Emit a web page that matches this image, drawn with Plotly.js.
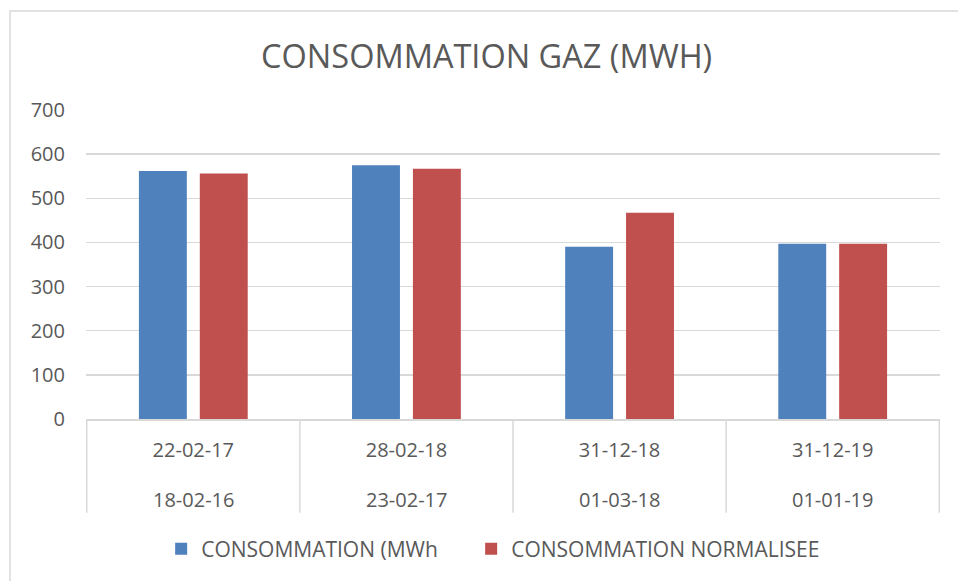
<!DOCTYPE html>
<html>
<head>
<meta charset="utf-8">
<script src="https://cdn.plot.ly/plotly-3.0.1.min.js"></script>
<style>html,body{margin:0;padding:0;background:#fff;}#chart{width:958px;height:581px;}</style>
</head>
<body>
<div id="chart"></div>
<script>
// Data
const topLabels = ["22-02-17", "28-02-18", "31-12-18", "31-12-19"];
const bottomLabels = ["18-02-16", "23-02-17", "01-03-18", "01-01-19"];
const consommation = [562, 575, 390, 397];
const consommationNormalisee = [556, 567, 467, 397];
const seriesNames = ["CONSOMMATION (MWh", "CONSOMMATION NORMALISEE"];
const yTicks = [0, 100, 200, 300, 400, 500, 600, 700];

const FONT = "Open Sans, Lato, sans-serif";
const TXT = "#595959";
const GRID = "#d9d9d9";

const traces = [
  {type: "bar", name: seriesNames[0], x: topLabels, y: consommation, legend: "legend",
   marker: {color: "#4f81bd", line: {width: 0}}, hoverinfo: "x+y"},
  {type: "bar", name: seriesNames[1], x: topLabels, y: consommationNormalisee, legend: "legend2",
   marker: {color: "#c0504d", line: {width: 0}}, hoverinfo: "x+y"}
];

const plotH = 309;
const dividerBottom = -(512.7 - 419) / plotH;
const shapes = [];
for (let i = 0; i <= topLabels.length; i++) {
  shapes.push({type: "line", xref: "x", yref: "paper", x0: i - 0.5, x1: i - 0.5,
    y0: 0, y1: dividerBottom, line: {color: GRID, width: 1.5}});
}
shapes.push({type: "rect", xref: "paper", yref: "paper", x0: -0.089, x1: 1.2, y0: -1, y1: 1.32,
  line: {color: GRID, width: 1.5}, fillcolor: "rgba(0,0,0,0)", layer: "below"});

const annotations = bottomLabels.map((t, i) => ({
  text: t, xref: "x", yref: "paper", x: topLabels[i], y: -(499 - 419) / plotH,
  xanchor: "center", yanchor: "middle", showarrow: false,
  font: {family: FONT, size: 20, color: TXT}
}));

const legendBase = {orientation: "h", xref: "paper", xanchor: "left", yref: "paper",
  y: -(549 - 419) / plotH, yanchor: "middle",
  font: {family: FONT, size: 21, color: TXT}, bgcolor: "rgba(0,0,0,0)"};

const layout = {
  width: 958, height: 581,
  margin: {l: 86, r: 18, t: 110, b: 162},
  paper_bgcolor: "#fff", plot_bgcolor: "#fff",
  font: {family: FONT, color: TXT},
  title: {text: "CONSOMMATION GAZ (MWH)", font: {family: FONT, size: 32.5, color: TXT},
    xref: "container", x: 0.508, xanchor: "center", yref: "container", y: 1 - 57 / 581, yanchor: "middle"},
  barmode: "group", bargap: 0.4286, bargroupgap: 0.213,
  xaxis: {type: "category", showline: true, linecolor: GRID, linewidth: 1.5, ticks: "",
    tickfont: {family: FONT, size: 20, color: TXT}, ticklabelstandoff: 12, showgrid: false, zeroline: false,
    fixedrange: true},
  yaxis: {range: [0, 700], tickvals: yTicks, showgrid: true, gridcolor: GRID, gridwidth: 1.5,
    zeroline: false, showline: false, ticks: "", tickfont: {family: FONT, size: 20, color: TXT},
    ticklabelstandoff: 20, fixedrange: true},
  showlegend: true,
  legend: Object.assign({}, legendBase, {x: 0.088}),
  legend2: Object.assign({}, legendBase, {x: 0.451}),
  shapes: shapes,
  annotations: annotations
};

Plotly.newPlot("chart", traces, layout, {displayModeBar: false, staticPlot: true});
</script>
</body>
</html>
